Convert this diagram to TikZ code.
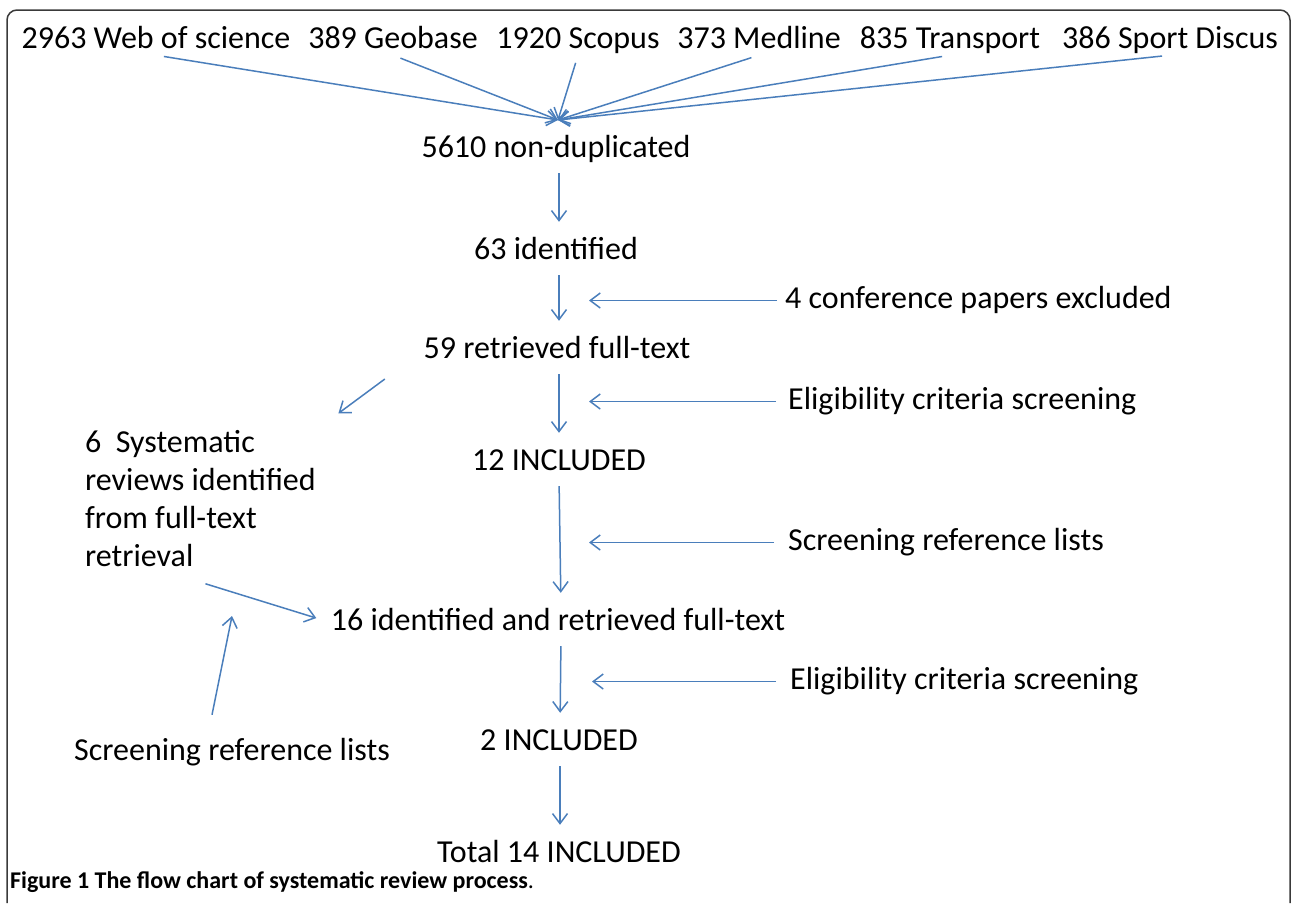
\documentclass[tikz,border=0pt]{standalone}
\usepackage{fontspec}
\setmainfont{Carlito}
\usetikzlibrary{arrows.meta}
\begin{document}
\begin{tikzpicture}[x=1pt,y=-1pt,
        txt/.style={inner sep=0pt, text height=22pt, text depth=7pt, font=\fontsize{32}{38}\selectfont},
        flow/.style={draw=flowblue, line width=1.5pt, -{Straight Barb[length=10pt,width=15pt]}}]
            \definecolor{flowblue}{HTML}{4A7EBB}
            \definecolor{framegray}{HTML}{3A3A3A}
            \useasboundingbox (0,0) rectangle (1291,903);
            \draw[line width=1.5pt, draw=framegray, rounded corners=10pt] (7,903) -- (7,10) -- (1290,10) -- (1290,903);
            \node[txt, anchor=base] (wos) at (156,48) {2963 Web of science};
            \node[txt, anchor=base] (geobase) at (393,48) {389 Geobase};
            \node[txt, anchor=base] (scopus) at (578,48) {1920 Scopus};
            \node[txt, anchor=base] (medline) at (759,48) {373 Medline};
            \node[txt, anchor=base] (transport) at (950,48) {835 Transport};
            \node[txt, anchor=base] (sportdiscus) at (1170,48) {386 Sport Discus};
            \coordinate (merge) at (558,120);
            \coordinate (rail) at (589,0);
            \coordinate (gap) at (232,616);
            \node[txt, anchor=base] (nondup) at (556,157) {5610 non-duplicated};
            \node[txt, anchor=base] (identified) at (556,259) {63 identified};
            \node[txt, anchor=base west] (confpapers) at (785,308) {4 conference papers excluded};
            \node[txt, anchor=base] (retrieved) at (557,358) {59 retrieved full-text};
            \node[txt, anchor=base west] (elig) at (788,409) {Eligibility criteria screening};
            \node[inner sep=0pt, anchor=north west, align=left, font=\fontsize{32}{38}\selectfont] (sysrev) at (85,430)
                {6\ \ Systematic\\reviews identified\\from full-text\\retrieval};
            \node[txt, anchor=base] (included) at (559,470) {12 INCLUDED};
            \node[txt, anchor=base west] (screenref) at (788,550) {Screening reference lists};
            \node[txt, anchor=base] (identretr) at (558,630) {16 identified and retrieved full-text};
            \node[txt, anchor=base west] (eligtwo) at (790,689) {Eligibility criteria screening};
            \node[txt, anchor=base] (includedtwo) at (559,750) {2 INCLUDED};
            \node[txt, anchor=base] (screenleft) at (232,760) {Screening reference lists};
            \node[txt, anchor=base] (total) at (559,862) {Total 14 INCLUDED};
            \node[inner sep=0pt, anchor=base west, font=\fontsize{24}{28}\selectfont] (caption) at (10,888)
                {\textbf{Figure 1 The flow chart of systematic review process}.};
            \draw[flow, shorten <=8pt] (wos.south) -- (merge);
            \draw[flow, shorten <=8pt] (geobase.south) -- (merge);
            \draw[flow, shorten <=8pt] (scopus.south) -- (merge);
            \draw[flow, shorten <=8pt] (medline.south) -- (merge);
            \draw[flow, shorten <=8pt] (transport.south) -- (merge);
            \draw[flow, shorten <=8pt] (sportdiscus.south) -- (merge);
            \draw[flow, shorten <=9pt, shorten >=15pt] ([xshift=3pt]nondup.south) -- ([xshift=3pt]identified.north);
            \draw[flow, shorten <=9pt, shorten >=15pt] ([xshift=3pt]identified.south) -- ([xshift=2pt]retrieved.north);
            \draw[flow, shorten <=9pt, shorten >=15pt] ([xshift=2pt]retrieved.south) -- (included.north);
            \draw[flow, shorten <=9pt, shorten >=15pt] (included.south) -- ([xshift=3pt]identretr.north);
            \draw[flow, shorten <=9pt, shorten >=15pt] ([xshift=3pt]identretr.south) -- ([xshift=1pt]includedtwo.north);
            \draw[flow, shorten <=9pt, shorten >=15pt] ([xshift=1pt]includedtwo.south) -- ([xshift=1pt]total.north);
            \draw[flow, shorten <=8pt] (confpapers.west) -- (confpapers.west -| rail);
            \draw[flow, shorten <=12pt] (elig.west) -- (elig.west -| rail);
            \draw[flow, shorten <=14pt] (screenref.west) -- (screenref.west -| rail);
            \draw[flow, shorten <=14pt] (eligtwo.west) -- ([xshift=3pt]eligtwo.west -| rail);
            \draw[flow, shorten <=48pt, shorten >=28pt] (retrieved.west) -- (sysrev.north east);
            \draw[flow, shorten >=15pt] ([xshift=5pt,yshift=-17pt]sysrev.south) -- (identretr.west);
            \draw[flow] ([xshift=-20pt,yshift=23pt]screenleft.north) -- (gap);
        \end{tikzpicture}
\end{document}
